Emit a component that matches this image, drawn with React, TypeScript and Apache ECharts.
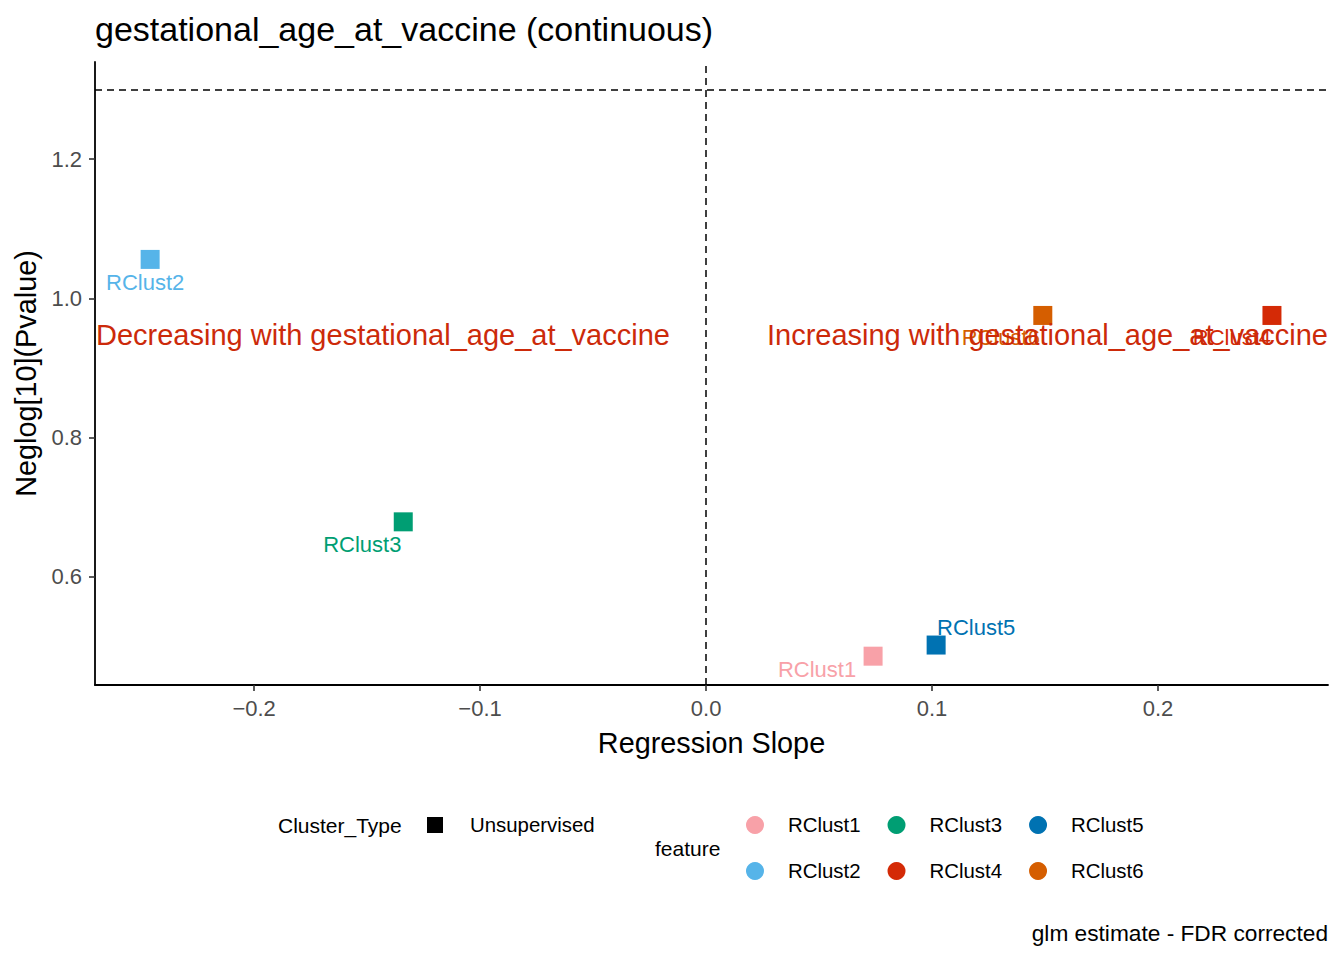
import React, { useEffect, useRef } from "react";
import * as echarts from "echarts";

// ---- data ----
const features = ["RClust1", "RClust2", "RClust3", "RClust4", "RClust5", "RClust6"];
const slopes = [0.0739, -0.246, -0.134, 0.2504, 0.1018, 0.149];
const negLogP = [0.486, 1.056, 0.679, 0.9755, 0.502, 0.9755];
const clusterTypes = ["Unsupervised"];
const xTicks = [-0.2, -0.1, 0.0, 0.1, 0.2];
const yTicks = [0.6, 0.8, 1.0, 1.2];
const xRange = [-0.2704, 0.2752];
const yRange = [0.4446, 1.3396];
const pThreshold = 1.30103; // -log10(0.05)
const annotationTexts = [
  "Decreasing with gestational_age_at_vaccine",
  "Increasing with gestational_age_at_vaccine",
];
const annotationY = 0.947;

// ---- styles ----
const FONT = "'Liberation Sans', Arial, Helvetica, sans-serif";
const featureColors: Record<string, string> = {
  RClust1: "#F8A1A8",
  RClust2: "#56B4E9",
  RClust3: "#009E73",
  RClust4: "#D42A06",
  RClust5: "#0072B2",
  RClust6: "#D55E00",
};
const labelOffsets: Record<string, number[]> = {
  RClust1: [-56, 13],
  RClust2: [-5, 23],
  RClust3: [-41, 23],
  RClust4: [-40, 22],
  RClust5: [40, -18],
  RClust6: [-42, 22],
};
const annotationColor = "#CC2A0A";

const fmt = (v: number) => {
  const s = Number(v).toFixed(1);
  return s.replace("-", "\u2212");
};

export default function App() {
  const ref = useRef<HTMLDivElement>(null);
  useEffect(() => {
    if (!ref.current) return;
    const chart = echarts.init(ref.current, undefined, { renderer: "svg" });

    const featureSeries = features.map((f, i) => ({
      name: f,
      type: "scatter",
      symbol: "rect",
      symbolSize: 19,
      itemStyle: { color: featureColors[f], opacity: 1 },
      data: [[slopes[i], negLogP[i]]],
      label: {
        show: true,
        position: "inside",
        offset: labelOffsets[f],
        formatter: f,
        color: featureColors[f],
        fontSize: 22,
        fontFamily: FONT,
      },
      emphasis: { disabled: true },
      z: 3,
    }));

    const option: any = {
      animation: false,
      backgroundColor: "#fff",
      textStyle: { fontFamily: FONT },
      title: {
        text: "gestational_age_at_vaccine (continuous)",
        left: 90,
        top: 7,
        textStyle: { fontSize: 34, fontWeight: "normal", color: "#000", fontFamily: FONT },
      },
      grid: { left: 95, right: 16, top: 62, bottom: 275, containLabel: false },
      xAxis: {
        type: "value",
        min: xRange[0],
        max: xRange[1],
        name: "Regression Slope",
        nameLocation: "middle",
        nameGap: 43,
        nameTextStyle: { fontSize: 28.8, color: "#000", fontFamily: FONT },
        splitLine: { show: false },
        axisLine: { show: true, onZero: false, lineStyle: { color: "#000", width: 1.8 } },
        axisTick: { show: true, length: 6, customValues: xTicks, lineStyle: { color: "#333", width: 1.6 } },
        axisLabel: {
          customValues: xTicks,
          formatter: fmt,
          fontSize: 22,
          color: "#4D4D4D",
          margin: 12,
          fontFamily: FONT,
        },
      },
      yAxis: {
        type: "value",
        min: yRange[0],
        max: yRange[1],
        name: "Neglog[10](Pvalue)",
        nameLocation: "middle",
        nameGap: 53,
        nameTextStyle: { fontSize: 28.8, color: "#000", fontFamily: FONT },
        splitLine: { show: false },
        axisLine: { show: true, onZero: false, lineStyle: { color: "#000", width: 1.8 } },
        axisTick: { show: true, length: 6, customValues: yTicks, lineStyle: { color: "#333", width: 1.6 } },
        axisLabel: {
          customValues: yTicks,
          formatter: fmt,
          fontSize: 22,
          color: "#4D4D4D",
          margin: 13,
          fontFamily: FONT,
        },
      },
      legend: [
        {
          data: clusterTypes,
          orient: "horizontal",
          left: 427,
          top: 815,
          padding: 0,
          itemWidth: 16,
          itemHeight: 16,
          icon: "rect",
          selectedMode: false,
          itemStyle: { color: "#000", opacity: 1 },
          textStyle: { fontSize: 20.4, color: "#000", fontFamily: FONT, padding: [0, 0, 0, 22] },
        },
        {
          data: ["RClust1", "RClust3", "RClust5"],
          orient: "horizontal",
          left: 746,
          top: 815,
          padding: 0,
          itemGap: 27,
          itemWidth: 18,
          itemHeight: 18,
          icon: "circle",
          selectedMode: false,
          textStyle: { fontSize: 20.4, color: "#000", fontFamily: FONT, padding: [0, 0, 0, 19] },
        },
        {
          data: ["RClust2", "RClust4", "RClust6"],
          orient: "horizontal",
          left: 746,
          top: 861,
          padding: 0,
          itemGap: 27,
          itemWidth: 18,
          itemHeight: 18,
          icon: "circle",
          selectedMode: false,
          textStyle: { fontSize: 20.4, color: "#000", fontFamily: FONT, padding: [0, 0, 0, 19] },
        },
      ],
      graphic: [
        {
          type: "text",
          left: 278,
          top: 815,
          style: { text: "Cluster_Type", fontSize: 21, fill: "#000", fontFamily: FONT },
        },
        {
          type: "text",
          left: 655,
          top: 838,
          style: { text: "feature", fontSize: 21, fill: "#000", fontFamily: FONT },
        },
        {
          type: "text",
          right: 16,
          top: 921,
          style: { text: "glm estimate - FDR corrected", fontSize: 22.7, fill: "#000", fontFamily: FONT },
        },
      ],
      series: [
        {
          name: "refLines",
          type: "scatter",
          data: [],
          silent: true,
          markLine: {
            silent: true,
            symbol: ["none", "none"],
            label: { show: false },
            lineStyle: { type: [7, 5], color: "#000", width: 1.5, opacity: 1 },
            data: [{ xAxis: 0 }, { yAxis: pThreshold }],
          },
        },
        ...featureSeries,
        {
          name: clusterTypes[0],
          type: "scatter",
          symbol: "rect",
          itemStyle: { color: "#000", opacity: 1 },
          data: [],
        },
        {
          name: "annotations",
          type: "scatter",
          symbolSize: 0,
          silent: true,
          z: 5,
          itemStyle: { opacity: 1 },
          data: [
            {
              value: [xRange[0], annotationY],
              label: { position: "right", distance: 1, formatter: annotationTexts[0] },
            },
            {
              value: [xRange[1], annotationY],
              label: { position: "left", distance: 0, formatter: annotationTexts[1] },
            },
          ],
          label: {
            show: true,
            fontSize: 29,
            color: annotationColor,
            opacity: 1,
            fontFamily: FONT,
          },
        },
      ],
    };

    chart.setOption(option);
    return () => chart.dispose();
  }, []);

  return (
    <div
      ref={ref}
      style={{ position: "fixed", left: 0, top: 0, width: 1344, height: 960, background: "#fff" }}
    />
  );
}
